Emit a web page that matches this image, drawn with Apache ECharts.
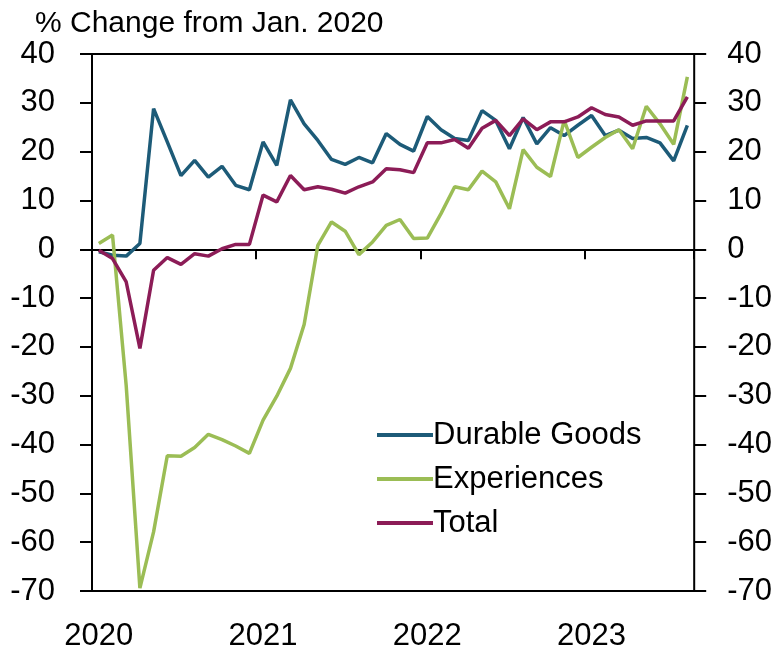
<!DOCTYPE html>
<html>
<head>
<meta charset="utf-8">
<script src="https://cdn.jsdelivr.net/npm/echarts@6/dist/echarts.min.js"></script>
<style>
html,body{margin:0;padding:0;background:#fff;}
#chart{width:775px;height:654px;}
</style>
</head>
<body>
<div id="chart"></div>
<script>
// Monthly categories Jan 2020 - Aug 2023
const years = ['2020', '2021', '2022', '2023'];
const categories = [];
years.forEach(function (y) {
  for (let m = 1; m <= 12; m++) {
    if (y === '2023' && m > 8) break;
    categories.push(y + '-' + (m < 10 ? '0' + m : m));
  }
});

const durableGoods = [
  -0.5, -1.2, -1.4, 1.2, 28.8, 22.0, 15.1, 18.2, 14.8, 17.0, 13.1, 12.2,
  22.0, 17.2, 30.6, 25.7, 22.3, 18.4, 17.4, 18.8, 17.7, 23.7, 21.5, 20.1,
  27.2, 24.5, 22.7, 22.3, 28.4, 26.4, 20.6, 27.0, 21.6, 24.9, 23.3, 25.4,
  27.4, 23.3, 24.4, 22.7, 22.9, 21.8, 18.1, 25.4
];
const experiences = [
  1.2, 2.9, -28.0, -69.4, -57.9, -42.3, -42.4, -40.6, -37.9, -39.0, -40.3, -41.8,
  -35.0, -30.1, -24.4, -15.4, 0.8, 5.6, 3.7, -1.1, 1.5, 4.9, 6.1, 2.2,
  2.3, 7.3, 12.8, 12.2, 16.0, 13.8, 8.3, 20.4, 16.8, 14.9, 26.4, 18.8,
  20.9, 22.9, 24.5, 20.6, 29.3, 25.7, 21.5, 35.3
];
const total = [
  -0.2, -1.9, -6.7, -20.3, -4.3, -1.7, -3.1, -0.9, -1.4, 0.1, 1.0, 1.0,
  11.1, 9.7, 15.1, 12.2, 12.8, 12.3, 11.5, 12.8, 13.8, 16.5, 16.3, 15.7,
  21.8, 21.8, 22.5, 20.7, 24.8, 26.4, 23.3, 26.7, 24.5, 26.1, 26.1, 27.1,
  29.0, 27.6, 27.1, 25.4, 26.3, 26.3, 26.3, 31.2
];
const seriesNames = ['Durable Goods', 'Experiences', 'Total'];
const seriesColors = ['#1d5b78', '#9bbd55', '#8c1c57'];
const yMin = -70, yMax = 40, yStep = 10;
const titleText = '% Change from Jan. 2020';

const FONT = '"Liberation Sans", Arial, sans-serif';

const chart = echarts.init(document.getElementById('chart'), null, {renderer: 'canvas'});

const yAxisCommon = {
  type: 'value',
  min: yMin, max: yMax, interval: yStep,
  axisLine: {show: false},
  splitLine: {show: false},
  axisTick: {show: true, inside: false, length: 12, lineStyle: {color: '#000', width: 2}},
  axisLabel: {fontFamily: FONT, fontSize: 31, color: '#000'}
};

chart.setOption({
  animation: false,
  backgroundColor: '#fff',
  title: {
    text: titleText, left: 30, top: 4,
    textStyle: {fontFamily: FONT, fontSize: 30, fontWeight: 'normal', color: '#000'}
  },
  grid: {
    left: 92, right: 77, top: 54, bottom: 63,
    show: true, borderColor: '#000', borderWidth: 2, backgroundColor: 'transparent'
  },
  legend: {
    orient: 'vertical', left: 372, top: 408,
    itemWidth: 56, itemHeight: 4, itemGap: 0, icon: 'rect',
    data: seriesNames,
    textStyle: {fontFamily: FONT, fontSize: 31, color: '#000', lineHeight: 44, padding: [0, 0, 0, -5]}
  },
  xAxis: [
    {
      type: 'category', data: categories, position: 'bottom', boundaryGap: true,
      axisLine: {show: false, onZero: false},
      axisTick: {show: false},
      axisLabel: {
        interval: 11, margin: 30, fontFamily: FONT, fontSize: 31, color: '#000',
        formatter: function (v) { return v.slice(0, 4); }
      }
    },
    {
      type: 'category', data: categories, position: 'bottom', boundaryGap: true,
      axisLine: {show: true, onZero: true, lineStyle: {color: '#000', width: 2}},
      axisTick: {show: true, interval: 11, length: 10, lineStyle: {color: '#000', width: 2}},
      axisLabel: {show: false}
    }
  ],
  yAxis: [
    Object.assign({}, yAxisCommon, {position: 'left', axisLabel: Object.assign({}, yAxisCommon.axisLabel, {margin: 37})}),
    Object.assign({}, yAxisCommon, {position: 'right', axisLabel: Object.assign({}, yAxisCommon.axisLabel, {margin: 33})})
  ],
  series: [durableGoods, experiences, total].map(function (d, i) {
    return {
      name: seriesNames[i], type: 'line', data: d,
      xAxisIndex: 0, yAxisIndex: 0,
      showSymbol: false, symbol: 'none',
      color: seriesColors[i],
      lineStyle: {color: seriesColors[i], width: 3.5},
      z: 3
    };
  })
});
</script>
</body>
</html>
